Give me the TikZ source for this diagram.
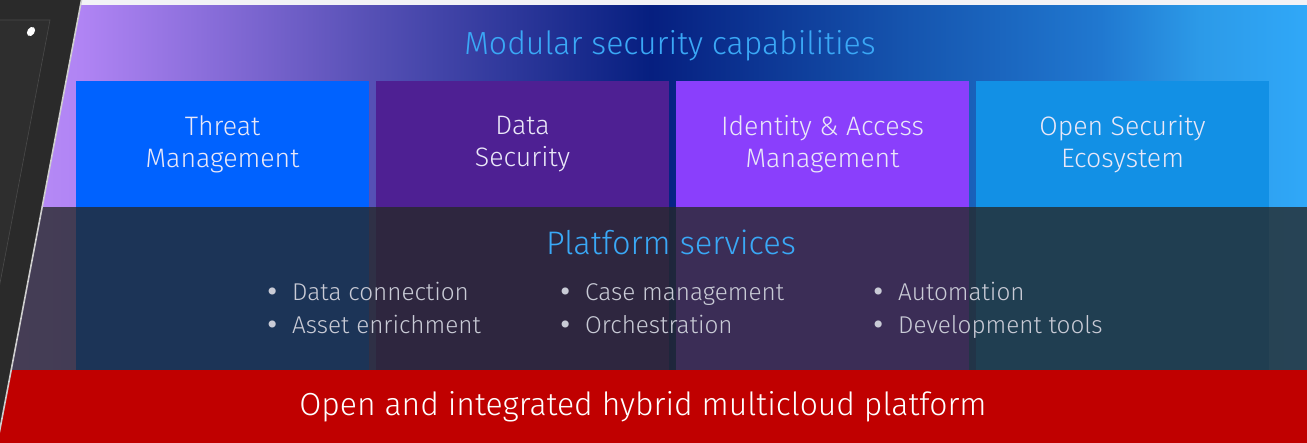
\documentclass[tikz,border=0pt]{standalone}
\usepackage{fontspec}
\setmainfont{Fira Sans Light}
\newfontfamily\bulfont{DejaVu Sans}
\usetikzlibrary{positioning}

\definecolor{topwhite}{HTML}{F2F2F6}
\definecolor{bgA}{HTML}{BA8EF8}
\definecolor{bgB}{HTML}{B084F4}
\definecolor{bgC}{HTML}{8C6FDC}
\definecolor{bgD}{HTML}{5650B5}
\definecolor{bgE}{HTML}{061F80}
\definecolor{bgF}{HTML}{1553AD}
\definecolor{bgG}{HTML}{2078D0}
\definecolor{bgH}{HTML}{2C9AE8}
\definecolor{bgI}{HTML}{30A8F8}
\definecolor{tmblue}{HTML}{0062FF}
\definecolor{dsviolet}{HTML}{4E2093}
\definecolor{iamviolet}{HTML}{8A3FFC}
\definecolor{ecocyan}{HTML}{1290E5}
\definecolor{headblue}{HTML}{3AA8F6}
\definecolor{boxtext}{HTML}{EAE8F8}
\definecolor{itemtext}{HTML}{C9CBD6}
\definecolor{bandshade}{RGB}{37,40,40}
\definecolor{platred}{HTML}{C00000}
\definecolor{devdark}{HTML}{2A2A2A}
\definecolor{devscreen}{HTML}{2E2E2E}
\definecolor{devedge}{HTML}{CFCFCF}

\pgfdeclarehorizontalshading{capsbg}{100bp}{color(0bp)=(bgA); color(25bp)=(bgA);
  color(28.1bp)=(bgB); color(32.6bp)=(bgC); color(39.2bp)=(bgD); color(49.9bp)=(bgE);
  color(59.4bp)=(bgF); color(67.1bp)=(bgG); color(70.9bp)=(bgH); color(75bp)=(bgI);
  color(100bp)=(bgI)}

\newcommand{\bul}{\makebox[27pt][l]{\bulfont\char"2022}}

\begin{document}
\begin{tikzpicture}[x=1pt,y=-1pt,node distance=300pt,on grid,
  capbox/.style={minimum width=293pt,minimum height=127pt,inner sep=0pt,align=center,
    text=boxtext,font=\fontsize{26.7}{32}\selectfont},
  item/.style={anchor=base west,inner sep=0pt,text=itemtext,font=\fontsize{24.3}{28}\selectfont},
  heading/.style={text=headblue,font=\fontsize{32}{36}\selectfont}]
\useasboundingbox (0,0) rectangle (1307,443);
\clip (0,0) rectangle (1307,443);

% background
\fill[topwhite] (0,0) rectangle (1307,6);
\shade[shading=capsbg] (0,6) rectangle (1307,370);
\node[heading] (modular) at (670,46) {Modular security capabilities};

% capabilities
\node[capbox,fill=tmblue] (threat) at (222.5,144.5) {Threat\\Management};
\node[capbox,fill=dsviolet,right=of threat] (datasec) {Data\\Security};
\node[capbox,fill=iamviolet,right=of datasec] (iam) {Identity \& Access\\Management};
\node[capbox,fill=ecocyan,right=of iam] (openeco) {Open Security\\Ecosystem};

% red platform bar
\node[fill=platred,minimum width=1307pt,minimum height=73pt,inner sep=0pt,
  anchor=north west] (hybrid) at (0,370) {};
\node[text=white,font=\fontsize{31.9}{36}\selectfont] (hybridtxt) at (643,407)
  {Open and integrated hybrid multicloud platform};

\foreach \b/\c in {threat/tmblue,datasec/dsviolet,iam/iamviolet,openeco/ecocyan}
  \fill[\c] (\b.south west) rectangle (\b.east |- hybrid.north);

% services band
\fill[bandshade,fill opacity=0.78] (0,207) rectangle (hybrid.north east);
\node[heading,font=\fontsize{32.6}{36}\selectfont] (platform) at (671,242) {Platform services};
\node[item] (dataconn) at (265,301) {\bul Data connection};
\node[item] (asset) at (265,334) {\bul Asset enrichment};
\node[item] (casemgmt) at (558,301) {\bul Case management};
\node[item] (orch) at (558,334) {\bul Orchestration};
\node[item] (auto) at (871,301) {\bul Automation};
\node[item] (devtools) at (871,334) {\bul Development tools};

% device on the left
\coordinate (edgetop) at (83.4,-10);
\coordinate (edgebot) at (-4,450);
\fill[devdark] (-10,-10) -- (edgetop) -- (edgebot) -- (-10,450) -- cycle;
\filldraw[fill=devscreen,draw=devdark!85!white,line width=0.6pt]
  (-10,20) -- (50,20) -- (-31.7,450) -- (-10,450) -- cycle;
\draw[devedge,line width=1.6pt] (edgetop) -- (edgebot);
\fill[white] (31,31.5) ellipse [x radius=5pt,y radius=3.6pt,rotate=55];
\end{tikzpicture}
\end{document}
